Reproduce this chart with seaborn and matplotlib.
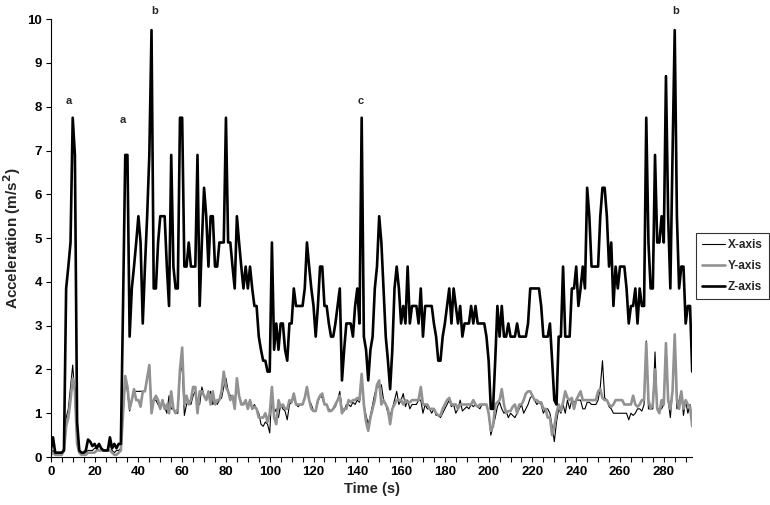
import matplotlib
matplotlib.use("Agg")
import matplotlib.pyplot as plt
import seaborn as sns
import pandas as pd

# sampled once per second, t = 0 .. 293
time_s = list(range(294))

x_axis = [0.1, 0.15, 0.05, 0.05, 0.05, 0.1, 0.2, 0.9, 1.1, 1.6,
          2.1, 1.4, 0.3, 0.1, 0.1, 0.1, 0.1, 0.15, 0.15, 0.15,
          0.2, 0.2, 0.15, 0.15, 0.15, 0.15, 0.15, 0.3, 0.15, 0.1,
          0.15, 0.15, 0.2, 1.0, 1.75, 1.5, 1.05, 1.3, 1.5, 1.5,
          1.5, 1.5, 1.5, 1.5, 1.8, 2.1, 1.1, 1.3, 1.3, 1.2,
          1.1, 1.3, 1.15, 1.0, 1.4, 1.1, 1.1, 1.0, 1.0, 1.9,
          2.1, 0.95, 1.2, 1.3, 1.2, 1.4, 1.5, 1.2, 1.2, 1.6,
          1.4, 1.3, 1.4, 1.5, 1.2, 1.3, 1.2, 1.3, 1.35, 1.6,
          1.8, 1.5, 1.4, 1.4, 1.3, 1.6, 1.4, 1.25, 1.2, 1.3,
          1.15, 1.3, 1.1, 1.2, 1.1, 1.0, 0.75, 0.7, 0.8, 0.75,
          0.55, 1.5, 1.0, 1.1, 0.9, 1.2, 1.1, 1.05, 0.85, 1.2,
          1.25, 1.35, 1.2, 1.15, 1.2, 1.2, 1.35, 1.55, 1.3, 1.2,
          1.05, 1.05, 1.25, 1.4, 1.35, 1.2, 1.2, 1.1, 1.05, 1.1,
          1.15, 1.3, 1.5, 1.1, 1.05, 1.2, 1.2, 1.15, 1.25, 1.2,
          1.3, 1.25, 1.85, 1.2, 0.95, 0.75, 0.95, 1.2, 1.45, 1.6,
          1.6, 1.65, 1.3, 1.2, 1.0, 0.95, 1.1, 1.3, 1.5, 1.2,
          1.3, 1.45, 1.15, 1.3, 1.1, 1.2, 1.2, 1.2, 1.3, 1.3,
          1.0, 1.2, 1.1, 1.1, 1.0, 1.1, 0.95, 0.95, 0.9, 1.0,
          1.1, 1.2, 1.3, 1.15, 1.2, 1.0, 1.1, 1.3, 1.05, 1.1,
          1.15, 1.1, 1.2, 1.15, 1.2, 1.15, 1.1, 1.2, 1.2, 1.2,
          1.0, 0.5, 0.7, 0.9, 1.15, 1.25, 1.1, 1.0, 1.05, 0.9,
          1.0, 0.95, 0.9, 1.0, 1.1, 1.2, 1.0, 1.1, 1.2, 1.35,
          1.4, 1.3, 1.2, 1.25, 1.2, 1.0, 1.1, 1.1, 1.0, 0.7,
          0.35, 0.8, 1.1, 1.0, 1.2, 1.0, 1.3, 1.1, 1.3, 1.25,
          1.3, 1.3, 1.3, 1.1, 1.1, 1.25, 1.25, 1.2, 1.2, 1.2,
          1.3, 1.6, 2.2, 1.35, 1.3, 1.15, 1.1, 1.0, 1.0, 1.0,
          1.0, 1.0, 1.0, 1.0, 0.85, 1.0, 0.95, 1.0, 1.1, 1.1,
          1.05, 1.2, 2.65, 1.1, 1.1, 1.1, 2.4, 1.1, 1.1, 1.1,
          1.2, 2.6, 1.3, 0.9, 1.5, 2.7, 1.1, 1.3, 1.5, 0.95,
          1.3, 1.0, 1.2, 0.8]

y_axis = [0.05, 0.1, 0.05, 0.05, 0.05, 0.05, 0.15, 0.7, 0.9, 1.3,
          1.8, 1.5, 0.3, 0.1, 0.05, 0.05, 0.05, 0.1, 0.1, 0.1,
          0.1, 0.15, 0.15, 0.15, 0.15, 0.15, 0.15, 0.15, 0.1, 0.05,
          0.05, 0.1, 0.15, 1.0, 1.85, 1.6, 1.1, 1.3, 1.55, 1.3,
          1.3, 1.15, 1.5, 1.5, 1.8, 2.1, 1.0, 1.3, 1.4, 1.3,
          1.1, 1.3, 1.1, 1.2, 1.0, 1.5, 1.1, 1.0, 1.1, 2.0,
          2.5, 1.2, 1.4, 1.2, 1.3, 1.6, 1.6, 1.0, 1.5, 1.5,
          1.4, 1.3, 1.5, 1.2, 1.5, 1.2, 1.3, 1.3, 1.5, 1.95,
          1.6, 1.5, 1.3, 1.4, 1.1, 1.8, 1.4, 1.2, 1.2, 1.3,
          1.1, 1.3, 1.1, 1.15, 1.1, 0.9, 0.9, 0.9, 1.0, 0.8,
          1.0, 1.6, 0.9, 0.75, 1.3, 1.15, 1.2, 1.1, 1.1, 1.3,
          1.25, 1.45, 1.2, 1.2, 1.2, 1.2, 1.35, 1.6, 1.3, 1.1,
          1.05, 1.05, 1.3, 1.4, 1.45, 1.2, 1.2, 1.05, 1.05, 1.1,
          1.2, 1.3, 1.4, 1.0, 1.1, 1.1, 1.3, 1.25, 1.3, 1.3,
          1.35, 1.3, 1.9, 1.2, 0.8, 0.6, 0.9, 1.1, 1.3, 1.65,
          1.75, 1.2, 1.3, 1.2, 1.1, 0.75, 1.1, 1.2, 1.3, 1.3,
          1.3, 1.2, 1.3, 1.25, 1.25, 1.3, 1.3, 1.3, 1.3, 1.6,
          1.2, 1.2, 1.2, 1.1, 1.1, 1.1, 1.0, 0.95, 0.95, 1.1,
          1.2, 1.3, 1.35, 1.2, 1.2, 1.2, 1.1, 1.2, 1.2, 1.2,
          1.2, 1.2, 1.2, 1.3, 1.2, 1.15, 1.2, 1.2, 1.2, 1.2,
          1.0, 0.6, 0.7, 1.2, 1.25, 1.3, 1.55, 1.2, 1.0, 1.05,
          1.05, 1.15, 1.2, 1.0, 1.2, 1.2, 1.3, 1.45, 1.5, 1.5,
          1.4, 1.3, 1.3, 1.25, 1.25, 1.1, 1.1, 0.9, 0.9, 0.5,
          0.7, 1.0, 1.2, 1.05, 1.25, 1.5, 1.35, 1.3, 1.35, 1.1,
          1.3, 1.4, 1.5, 1.3, 1.3, 1.3, 1.3, 1.3, 1.3, 1.3,
          1.5, 1.55, 1.35, 1.3, 1.3, 1.2, 1.15, 1.2, 1.3, 1.3,
          1.3, 1.3, 1.2, 1.2, 1.2, 1.2, 1.4, 1.2, 1.15, 1.2,
          1.3, 1.3, 2.6, 1.3, 1.1, 1.2, 2.0, 1.1, 1.0, 1.3,
          1.2, 2.6, 1.3, 1.1, 1.5, 2.8, 1.3, 1.1, 1.5, 1.1,
          1.3, 1.2, 1.15, 0.7]

z_axis = [0.15, 0.45, 0.1, 0.1, 0.1, 0.1, 0.15, 3.85, 4.35, 4.9,
          7.75, 6.9, 0.8, 0.15, 0.1, 0.1, 0.15, 0.4, 0.35, 0.25,
          0.3, 0.2, 0.3, 0.2, 0.15, 0.15, 0.15, 0.45, 0.2, 0.3,
          0.2, 0.3, 0.3, 3.5, 6.9, 6.9, 2.75, 3.85, 4.35, 4.9,
          5.5, 4.9, 3.05, 4.35, 5.5, 6.9, 9.75, 3.85, 3.85, 4.9,
          5.5, 5.5, 5.5, 4.35, 3.45, 6.9, 4.35, 3.85, 3.85, 7.75,
          7.75, 4.35, 4.35, 4.9, 4.35, 4.35, 4.35, 6.9, 3.45, 4.9,
          6.15, 5.5, 4.35, 5.5, 5.5, 4.35, 4.35, 4.9, 4.9, 4.9,
          7.75, 4.9, 4.9, 4.35, 3.85, 5.5, 4.9, 4.35, 3.85, 4.35,
          3.85, 4.35, 3.85, 3.45, 3.45, 2.75, 2.45, 2.2, 2.2, 1.95,
          1.95, 4.9, 2.45, 3.05, 2.45, 3.05, 3.05, 2.45, 2.2, 3.05,
          3.05, 3.85, 3.45, 3.45, 3.45, 3.45, 3.85, 4.9, 4.35, 3.85,
          3.45, 2.75, 3.45, 4.35, 4.35, 3.45, 3.45, 3.05, 2.75, 2.75,
          3.05, 3.45, 3.85, 1.75, 2.45, 3.05, 3.05, 3.05, 2.75, 3.45,
          3.85, 3.05, 7.75, 2.75, 2.45, 1.75, 2.45, 2.75, 3.85, 4.35,
          5.5, 4.9, 3.85, 2.75, 2.2, 1.55, 2.45, 3.85, 4.35, 3.85,
          3.05, 3.45, 3.05, 4.35, 3.05, 3.45, 3.45, 3.45, 3.05, 3.85,
          2.75, 3.45, 3.45, 3.45, 3.45, 3.05, 2.75, 2.2, 2.2, 2.75,
          3.05, 3.45, 3.85, 3.05, 3.85, 3.45, 3.05, 3.45, 2.75, 3.05,
          3.05, 3.05, 3.45, 3.05, 3.45, 3.05, 3.05, 3.05, 3.05, 2.75,
          2.2, 1.1, 1.1, 2.2, 3.45, 2.75, 3.45, 2.75, 2.75, 3.05,
          2.75, 2.75, 2.75, 3.05, 2.75, 2.75, 2.75, 2.75, 3.05, 3.85,
          3.85, 3.85, 3.85, 3.85, 3.45, 2.75, 2.75, 2.75, 3.05, 2.2,
          1.3, 1.2, 2.75, 2.75, 4.35, 2.75, 2.75, 2.75, 3.85, 3.85,
          4.35, 3.45, 3.85, 4.35, 3.85, 6.15, 5.5, 4.35, 4.35, 4.35,
          4.35, 5.5, 6.15, 6.15, 5.5, 4.35, 4.9, 3.45, 4.35, 3.85,
          4.35, 4.35, 4.35, 3.85, 3.05, 3.45, 3.45, 3.85, 3.05, 3.85,
          3.45, 3.45, 7.75, 4.9, 3.85, 3.85, 6.9, 4.9, 4.9, 5.5,
          4.9, 8.7, 5.5, 3.85, 6.9, 9.75, 5.5, 3.85, 4.35, 4.35,
          3.05, 3.45, 3.45, 1.95]

# peak markers
note_text = ["a", "a", "b", "c", "b"]
note_t = [8.2, 33.0, 47.6, 141.4, 285.4]
note_v = [8.13, 7.7, 10.18, 8.13, 10.18]

x_ticks = list(range(0, 294, 5))
x_labels = [str(t) if t % 20 == 0 else "" for t in x_ticks]

sns.set_theme(style="ticks")
plt.rcParams["font.family"] = ["Liberation Sans", "DejaVu Sans"]
plt.rcParams["font.weight"] = "bold"

data = pd.DataFrame({"Time": time_s, "X": x_axis, "Y": y_axis, "Z": z_axis})

fig = plt.figure(figsize=(7.7, 5.05), dpi=100)
ax = fig.add_axes([0.066, 0.095, 0.833, 0.867])

sns.lineplot(x="Time", y="X", data=data, ax=ax, color="black", linewidth=0.8, label="X-axis")
sns.lineplot(x="Time", y="Y", data=data, ax=ax, color="#929292", linewidth=1.9, label="Y-axis")
sns.lineplot(x="Time", y="Z", data=data, ax=ax, color="black", linewidth=1.9, label="Z-axis")

for txt, t, v in zip(note_text, note_t, note_v):
    ax.text(t, v, txt, ha="center", va="center", fontsize=8, fontweight="bold", clip_on=False)

ax.set_xlim(0, 293)
ax.set_ylim(0, 10)
ax.set_xticks(x_ticks)
ax.set_xticklabels(x_labels)
ax.set_yticks(range(0, 11))
ax.tick_params(axis="both", direction="out", length=3.5, width=0.8, colors="black",
               labelsize=9.5, pad=3)
for lab in ax.get_xticklabels() + ax.get_yticklabels():
    lab.set_fontweight("bold")

sns.despine(ax=ax)
ax.spines["left"].set_color("black")
ax.spines["bottom"].set_color("black")
ax.spines["left"].set_linewidth(0.8)
ax.spines["bottom"].set_linewidth(0.8)

ax.set_xlabel("Time (s)", fontsize=10.5, fontweight="bold", labelpad=3)
ax.set_ylabel("Acceleration (m/s$^\\mathbf{2}$)", fontsize=11, fontweight="bold", labelpad=3)

leg = ax.legend(loc="center", bbox_to_anchor=(0.951, 0.473), bbox_transform=fig.transFigure,
                frameon=True, fancybox=False, fontsize=8.5, handlelength=2.0,
                handletextpad=0.2, borderpad=0.5, labelspacing=0.75, borderaxespad=0)
leg.get_frame().set_edgecolor("black")
leg.get_frame().set_linewidth(0.8)
for t in leg.get_texts():
    t.set_fontweight("bold")

fig.savefig("out.png", dpi=100)
